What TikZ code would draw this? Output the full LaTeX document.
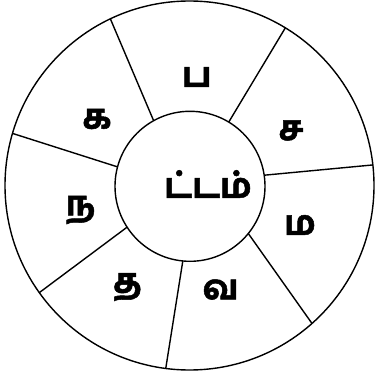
\documentclass[tikz,border=0pt]{standalone}
\usepackage{fontspec}
\usetikzlibrary{calc}
\newfontfamily\tamilfont[Script=Tamil,UprightFont={* Bold},FakeBold=1.5]{Hind Madurai}
\begin{document}
\begin{tikzpicture}[x=1pt,y=-1pt,line width=1.4pt,
  lbl/.style={font=\tamilfont\fontsize{34}{36}\selectfont,inner sep=0pt}]
\useasboundingbox (0,0) rectangle (377,374);
\coordinate (O) at (189.5,185.5);
\coordinate (I) at (190,186.3);
\draw (O) circle [radius=184.5];
\draw (I) circle [radius=75];
\foreach \a/\b in {119/115.4, 58.9/58.7, 8.5/6.4, -39/-48.4, -95.5/-97.4, -147/-144.5, 165/163.6}{
  \draw ($(I)+(-\a:75)$) -- ($(O)+(-\b:184.5)$);
}
\node[lbl] (pa) at (196.7,77) {ப};
\node[lbl] (ca) at (291,130.5) {ச};
\node[lbl] (ma) at (300,225) {ம};
\node[lbl] (va) at (220.5,289.5) {வ};
\node[lbl] (ta) at (127.5,287) {த};
\node[lbl] (na) at (80.5,210) {ந};
\node[lbl] (ka) at (97,119) {க};
\node[lbl] (c) at (208,184) {ட்டம்};
\end{tikzpicture}
\end{document}
